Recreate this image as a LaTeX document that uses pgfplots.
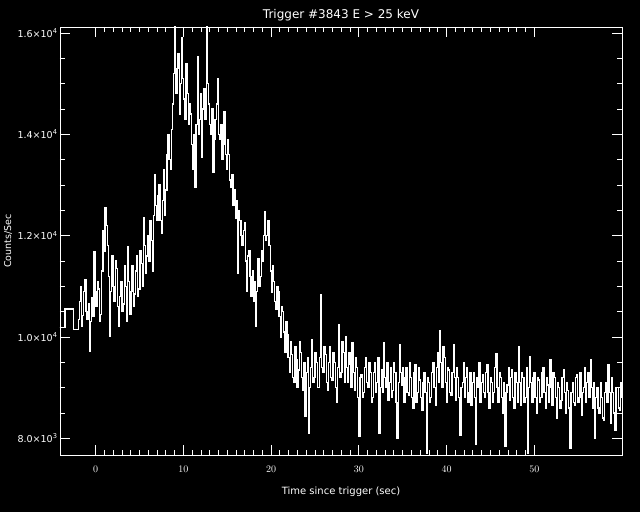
\documentclass[border=0pt]{standalone}
\usepackage{pgfplots}
\pgfplotsset{compat=1.18}
\usepackage{pgfplotstable}
\usepackage{fontspec}
\setmainfont{DejaVu Sans}
\pgfplotstableread{
t v
-4.500 10190
-3.500 10554
-2.550 10145
-2.000 10340
-1.872 10700
-1.744 11000
-1.616 10200
-1.488 10420
-1.360 10900
-1.232 11130
-1.104 10500
-0.976 10350
-0.848 10650
-0.720 9710
-0.592 10300
-0.464 10780
-0.336 10400
-0.208 11690
-0.080 10900
0.048 10600
0.176 11100
0.304 10950
0.432 10300
0.560 10450
0.688 11300
0.816 12100
0.944 11700
1.072 12560
1.200 12200
1.328 11800
1.456 11200
1.584 10010
1.712 10900
1.840 11600
1.968 11000
2.096 10700
2.224 11500
2.352 11350
2.480 10600
2.608 10210
2.736 10800
2.864 11100
2.992 10500
3.120 10650
3.248 11400
3.376 11000
3.504 10300
3.632 11790
3.760 11100
3.888 10450
4.016 10900
4.144 11400
4.272 10600
4.400 10850
4.528 11300
4.656 11600
4.784 10800
4.912 10950
5.040 11700
5.168 11450
5.296 11000
5.424 12360
5.552 11800
5.680 11250
5.808 11600
5.936 12000
6.064 11500
6.192 12300
6.320 11900
6.448 11300
6.576 12400
6.704 13200
6.832 12600
6.960 12300
7.088 12800
7.216 13000
7.344 12300
7.472 12050
7.600 12700
7.728 13300
7.856 12400
7.984 12900
8.112 13600
8.240 14000
8.368 13500
8.496 13300
8.624 14100
8.752 14600
8.880 15200
9.008 16150
9.136 14800
9.264 15300
9.392 15600
9.520 14400
9.648 15000
9.776 15900
9.904 15100
10.032 14700
10.160 14300
10.288 15400
10.416 14800
10.544 14200
10.672 14600
10.800 14400
10.928 13800
11.056 13300
11.184 14000
11.312 12950
11.440 14200
11.568 15530
11.696 14000
11.824 14300
11.952 14800
12.080 13550
12.208 14500
12.336 14900
12.464 14300
12.592 16150
12.720 15000
12.848 14600
12.976 14200
13.104 14000
13.232 14500
13.360 13250
13.488 13900
13.616 14300
13.744 14600
13.872 15100
14.000 14000
14.128 13900
14.256 14200
14.384 13500
14.512 13800
14.640 14440
14.768 13600
14.896 13300
15.024 13900
15.152 13600
15.280 13100
15.408 12950
15.536 13200
15.664 12600
15.792 12900
15.920 12350
16.048 12700
16.176 11250
16.304 12500
16.432 12300
16.560 12000
16.688 11800
16.816 12100
16.944 12250
17.072 11500
17.200 10900
17.328 11600
17.456 11700
17.584 11200
17.712 10800
17.840 11300
17.968 10700
18.096 11100
18.224 10210
18.352 10900
18.480 11550
18.608 11000
18.736 11200
18.864 11700
18.992 11500
19.120 12000
19.248 12480
19.376 11900
19.504 12000
19.632 12300
19.760 11800
19.888 11300
20.016 10880
20.144 11400
20.272 11100
20.400 10700
20.528 10550
20.656 11000
20.784 10900
20.912 10400
21.040 10000
21.168 10600
21.296 10500
21.424 10100
21.552 9700
21.680 10300
21.808 10050
21.936 9600
22.064 9300
22.192 9900
22.320 9650
22.448 9200
22.576 9100
22.704 9800
22.832 9550
22.960 9000
23.088 9350
23.216 9900
23.344 9700
23.472 9200
23.600 8950
23.728 9500
23.856 8430
23.984 9300
24.112 9600
24.240 8100
24.368 9000
24.496 9400
24.624 9950
24.752 9100
24.880 9200
25.008 9700
25.136 9500
25.264 9000
25.392 9000
25.520 9600
25.648 10840
25.776 9400
25.904 9300
26.032 9800
26.160 9650
26.288 9100
26.416 8950
26.544 9500
26.672 9800
26.800 9200
26.928 9150
27.056 9700
27.184 9500
27.312 9000
27.440 8700
27.568 9400
27.696 10240
27.824 9200
27.952 9300
28.080 9900
28.208 9700
28.336 9100
28.464 10010
28.592 9400
28.720 9100
28.848 9700
28.976 9450
29.104 9000
29.232 9880
29.360 9300
29.488 8950
29.616 9600
29.744 9400
29.872 8800
30.000 8030
30.128 9200
30.256 9250
30.384 8800
30.512 8900
30.640 9400
30.768 9600
30.896 9100
31.024 9000
31.152 9500
31.280 9300
31.408 8700
31.536 8800
31.664 9300
31.792 9500
31.920 8900
32.048 9100
32.176 9600
32.304 8100
32.432 9000
32.560 9350
32.688 8900
32.816 9890
32.944 9200
33.072 9000
33.200 9500
33.328 8750
33.456 9100
33.584 9400
33.712 8800
33.840 8950
33.968 9500
34.096 9300
34.224 8700
34.352 8000
34.480 9100
34.608 9850
34.736 9300
34.864 9050
34.992 9400
35.120 8700
35.248 9200
35.376 9400
35.504 8900
35.632 8850
35.760 9500
35.888 9200
36.016 8800
36.144 8600
36.272 9300
36.400 9450
36.528 8700
36.656 8900
36.784 9400
36.912 9150
37.040 8800
37.168 8550
37.296 9100
37.424 9300
37.552 8900
37.680 7700
37.808 9200
37.936 9100
38.064 8700
38.192 8800
38.320 9300
38.448 9500
38.576 9000
38.704 8650
38.832 9400
38.960 9700
39.088 9100
39.216 10120
39.344 9500
39.472 9000
39.600 9800
39.728 9600
39.856 9100
39.984 8700
40.112 9400
40.240 9350
40.368 8900
40.496 8850
40.624 9300
40.752 9850
40.880 9200
41.008 8750
41.136 9400
41.264 9200
41.392 8800
41.520 8050
41.648 9000
41.776 9100
41.904 9500
42.032 8800
42.160 9200
42.288 9400
42.416 8700
42.544 8900
42.672 9300
42.800 8650
42.928 9100
43.056 9300
43.184 8800
43.312 7890
43.440 9200
43.568 9000
43.696 9500
43.824 8700
43.952 9100
44.080 9250
44.208 8900
44.336 8800
44.464 9300
44.592 9450
44.720 8900
44.848 8600
44.976 9200
45.104 9100
45.232 8700
45.360 8900
45.488 9400
45.616 9680
45.744 9000
45.872 8700
46.000 9300
46.128 9200
46.256 8800
46.384 8500
46.512 9100
46.640 7850
46.768 8900
46.896 9050
47.024 9400
47.152 8750
47.280 9200
47.408 9350
47.536 8800
47.664 8600
47.792 9300
47.920 9100
48.048 8700
48.176 9800
48.304 9100
48.432 8650
48.560 9300
48.688 9200
48.816 8700
48.944 8800
49.072 9400
49.200 7700
49.328 9000
49.456 9620
49.584 9100
49.712 8700
49.840 9200
49.968 9300
50.096 8800
50.224 8500
50.352 9200
50.480 9150
50.608 8700
50.736 8800
50.864 9300
50.992 9400
51.120 8900
51.248 8600
51.376 9200
51.504 9050
51.632 8700
51.760 9550
51.888 9000
52.016 8650
52.144 9300
52.272 9200
52.400 8800
52.528 8400
52.656 9100
52.784 9000
52.912 8600
53.040 8750
53.168 9200
53.296 9350
53.424 8900
53.552 8500
53.680 9100
53.808 8950
53.936 8600
54.064 7810
54.192 8900
54.320 9100
54.448 8700
54.576 8650
54.704 9200
54.832 9250
54.960 8700
55.088 8800
55.216 9300
55.344 8450
55.472 8900
55.600 9000
55.728 9400
55.856 8700
55.984 9100
56.112 9300
56.240 8800
56.368 9550
56.496 9000
56.624 8600
56.752 9100
56.880 8000
57.008 8800
57.136 9000
57.264 8600
57.392 8500
57.520 9100
57.648 8800
57.776 8400
57.904 8350
58.032 8900
58.160 9100
58.288 8700
58.416 9450
58.544 8900
58.672 8300
58.800 9200
58.928 8900
59.056 8500
59.184 8150
59.312 9000
59.440 9000
59.568 8600
59.696 8550
59.824 9100
59.952 8800
60.080 8700
60.208 8800
}\lc
\begin{document}
\begin{tikzpicture}[x=1bp,y=1bp]
\fill[black] (-60,-57) rectangle (580,455);
\useasboundingbox (-60,-57) rectangle (580,455);
\begin{axis}[at={(0,0)},anchor=south west, scale only axis,
  width=562bp, height=428bp,
  xmin=-4.07, xmax=60.0, ymin=7670, ymax=16120,
  axis line style={white, line width=0.9bp},
  every tick/.style={white, line width=0.9bp},
  tick align=inside,
  xtick={0,10,20,30,40,50}, minor x tick num=9,
  ytick={8000,10000,12000,14000,16000}, minor y tick num=3,
  yticklabels={8.0×10\textsuperscript{3},1.0×10\textsuperscript{4},1.2×10\textsuperscript{4},1.4×10\textsuperscript{4},1.6×10\textsuperscript{4}},
  major tick length=10bp, minor tick length=5bp,
  ticklabel style={white, font=\fontsize{9.5bp}{11bp}\selectfont},
  xticklabel style={yshift=-8bp},
  yticklabel style={xshift=1bp},
  scaled y ticks=false,
  axis background/.style={fill=black},
]
\addplot[const plot, white, line width=1.3bp] table[x=t, y=v] {\lc};
\end{axis}
\node[white, font=\fontsize{12bp}{14bp}\selectfont] at (281,440) {Trigger \#3843 E > 25 keV};
\node[white, font=\fontsize{10bp}{12bp}\selectfont] at (281,-37) {Time since trigger (sec)};
\node[white, rotate=90, font=\fontsize{9.5bp}{11bp}\selectfont] at (-52,214) {Counts/Sec};
\end{tikzpicture}
\end{document}
